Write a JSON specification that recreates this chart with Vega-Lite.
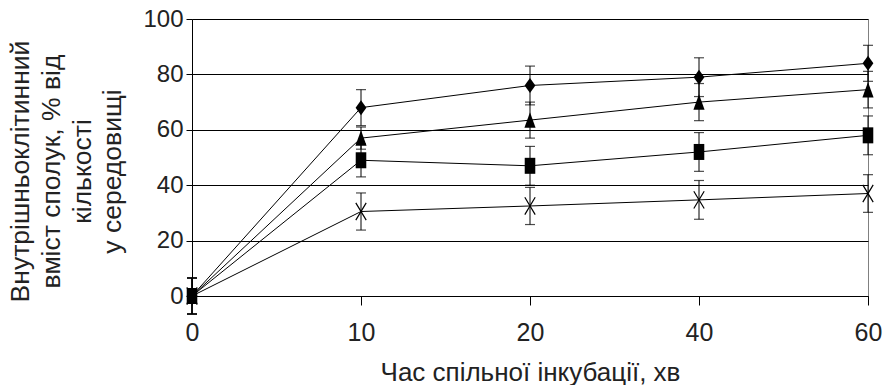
{
  "$schema": "https://vega.github.io/schema/vega-lite/v6.json",
  "width": 676,
  "height": 277,
  "autosize": "none",
  "padding": {"left": 192, "top": 19, "right": 15, "bottom": 89},
  "background": "white",
  "config": {
    "view": {"stroke": "#808080", "strokeWidth": 1},
    "font": "Liberation Sans",
    "axisY": {
      "values": [0, 20, 40, 60, 80, 100],
      "titleFontSize": 26.5,
      "titleFontWeight": "normal",
      "titleColor": "#222",
      "titleAngle": -90,
      "titleAlign": "center",
      "titleBaseline": "middle",
      "titleY": 152,
      "labelFontSize": 24,
      "labelColor": "#222",
      "labelPadding": 3,
      "tickSize": 6,
      "tickColor": "black",
      "domainColor": "black",
      "gridColor": "black",
      "gridOpacity": 1
    }
  },
  "resolve": {"axis": {"y": "independent"}},
  "data": {
    "values": [
      {"t": 0, "s": "A", "v": 0, "lo": -6.5, "hi": 6.5},
      {"t": 10, "s": "A", "v": 68, "lo": 61.5, "hi": 74.5},
      {"t": 20, "s": "A", "v": 76, "lo": 69, "hi": 83},
      {"t": 40, "s": "A", "v": 79, "lo": 72, "hi": 86},
      {"t": 60, "s": "A", "v": 84, "lo": 77.5, "hi": 90.5},
      {"t": 0, "s": "B", "v": 0, "lo": -6.5, "hi": 6.5},
      {"t": 10, "s": "B", "v": 57, "lo": 53, "hi": 61},
      {"t": 20, "s": "B", "v": 63.5, "lo": 57, "hi": 70},
      {"t": 40, "s": "B", "v": 70, "lo": 63.3, "hi": 76.7},
      {"t": 60, "s": "B", "v": 74.5, "lo": 67.9, "hi": 81.1},
      {"t": 0, "s": "C", "v": 0, "lo": -6.5, "hi": 6.5},
      {"t": 10, "s": "C", "v": 49, "lo": 43, "hi": 55},
      {"t": 20, "s": "C", "v": 47, "lo": 40, "hi": 54},
      {"t": 40, "s": "C", "v": 52, "lo": 45, "hi": 59},
      {"t": 60, "s": "C", "v": 58, "lo": 51, "hi": 65},
      {"t": 0, "s": "D", "v": 0, "lo": -6.5, "hi": 6.5},
      {"t": 10, "s": "D", "v": 30.5, "lo": 23.8, "hi": 37.2},
      {"t": 20, "s": "D", "v": 32.5, "lo": 25.8, "hi": 39.2},
      {"t": 40, "s": "D", "v": 34.7, "lo": 27.7, "hi": 41.7},
      {"t": 60, "s": "D", "v": 37, "lo": 30.2, "hi": 43.8}
    ]
  },
  "encoding": {
    "x": {
      "field": "t",
      "type": "ordinal",
      "sort": [0, 10, 20, 40, 60],
      "scale": {"type": "point", "padding": 0},
      "axis": {
        "title": "Час спільної інкубації, хв",
        "titleFontSize": 26,
        "titleFontWeight": "normal",
        "titleColor": "#222",
        "titleBaseline": "alphabetic",
        "titleY": 84,
        "labelAngle": 0,
        "labelFontSize": 25,
        "labelColor": "#222",
        "labelBaseline": "alphabetic",
        "labelPadding": 35,
        "labelDx": 5,
        "ticks": true,
        "tickSize": 9,
        "tickColor": "black",
        "domainColor": "black",
        "grid": false
      }
    }
  },
  "layer": [
    {
      "mark": {"type": "line", "color": "black", "strokeWidth": 1},
      "encoding": {
        "y": {
          "field": "v",
          "type": "quantitative",
          "scale": {"domain": [0, 100], "nice": false},
          "axis": {"orient": "left", "grid": true, "title": "Внутрішньоклітинний", "titleX": -172}
        },
        "detail": {"field": "s"}
      }
    },
    {
      "mark": {"type": "rule", "color": "black", "strokeWidth": 1},
      "encoding": {
        "y": {
          "field": "lo",
          "type": "quantitative",
          "axis": {"orient": "left", "grid": false, "labels": false, "ticks": false, "domain": false, "title": "вміст сполук, % від", "titleX": -141}
        },
        "y2": {"field": "hi"}
      }
    },
    {
      "mark": {"type": "tick", "color": "black", "size": 10, "thickness": 1.2},
      "encoding": {
        "y": {
          "field": "lo",
          "type": "quantitative",
          "axis": {"orient": "left", "grid": false, "labels": false, "ticks": false, "domain": false, "title": "кількості", "titleX": -110}
        }
      }
    },
    {
      "mark": {"type": "tick", "color": "black", "size": 10, "thickness": 1.2},
      "encoding": {
        "y": {
          "field": "hi",
          "type": "quantitative",
          "axis": {"orient": "left", "grid": false, "labels": false, "ticks": false, "domain": false, "title": "у середовищі", "titleX": -80}
        }
      }
    },
    {
      "transform": [{"filter": "datum.s !== 'D'"}],
      "mark": {"type": "point", "filled": true, "color": "black", "opacity": 1},
      "encoding": {
        "y": {"field": "v", "type": "quantitative", "axis": null},
        "shape": {
          "field": "s",
          "scale": {
            "domain": ["A", "B", "C"],
            "range": [
              "M0,-1L0.72,0L0,1L-0.72,0Z",
              "M0,-1L0.72,1L-0.72,1Z",
              "M-0.66,-1L0.66,-1L0.66,1L-0.66,1Z"
            ]
          },
          "legend": null
        },
        "size": {
          "field": "s",
          "scale": {"domain": ["A", "B", "C"], "range": [225, 256, 361]},
          "legend": null
        }
      }
    },
    {
      "transform": [{"filter": "datum.s === 'D'"}],
      "mark": {
        "type": "point",
        "filled": false,
        "color": "black",
        "opacity": 1,
        "strokeWidth": 1.2,
        "shape": "M-0.6,-1L0.6,1M0.6,-1L-0.6,1",
        "size": 300
      },
      "encoding": {
        "y": {"field": "v", "type": "quantitative", "axis": null}
      }
    }
  ]
}
